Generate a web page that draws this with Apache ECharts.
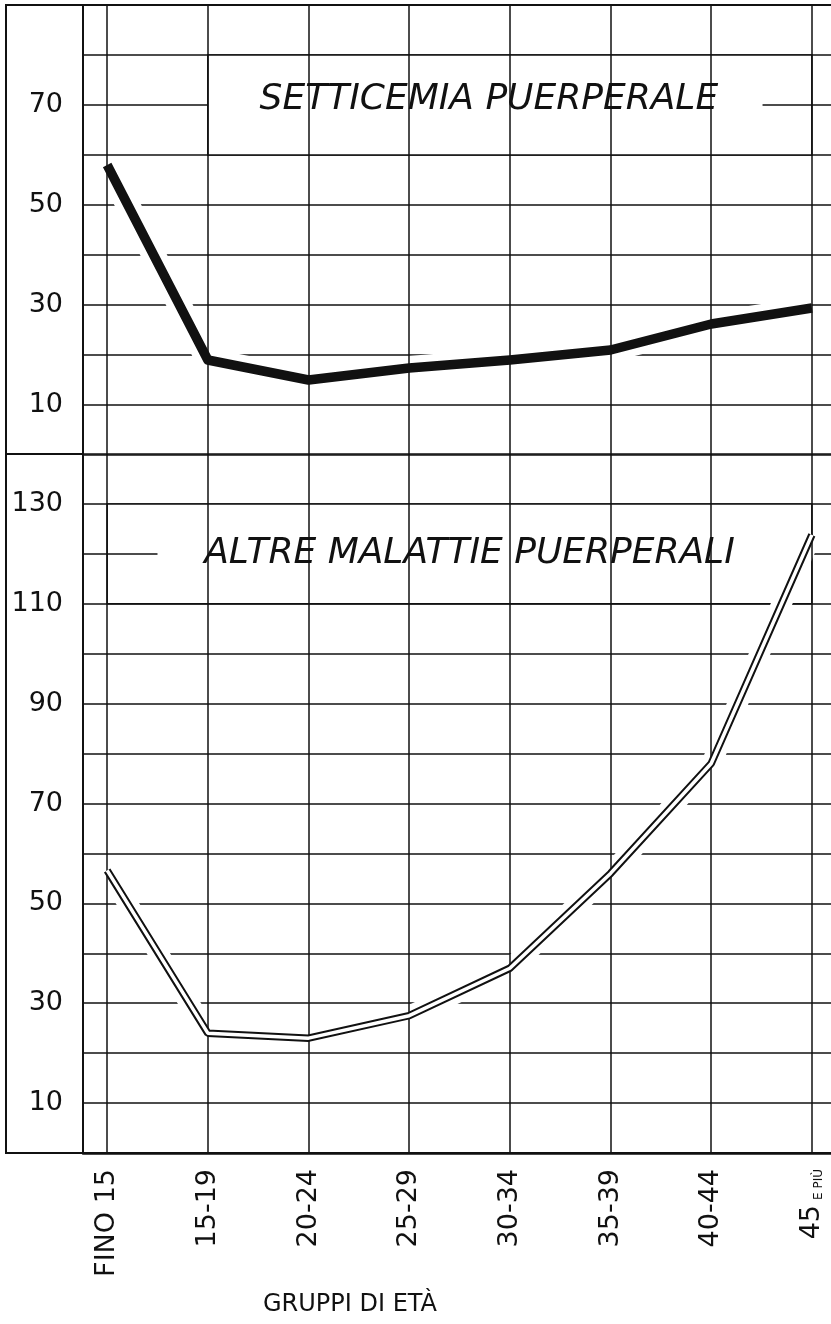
<!DOCTYPE html>
<html>
<head>
<meta charset="utf-8">
<script src="https://cdn.jsdelivr.net/npm/echarts@6/dist/echarts.min.js"></script>
<style>
  html, body { margin: 0; padding: 0; background: #fff; }
  #chart { width: 831px; height: 1324px; }
</style>
</head>
<body>
<div id="chart"></div>
<script>
// dati
const categories = ['FINO 15', '15-19', '20-24', '25-29', '30-34', '35-39', '40-44', '45 E PIÙ']
const setticemia = [58, 19, 15, 17.4, 19, 21, 26.2, 29.4]
const altreMalattie = [56.6, 24, 23, 27.5, 37, 56, 78, 123.8]
const topTicks = [10, 30, 50, 70]
const bottomTicks = [10, 30, 50, 70, 90, 110, 130]
const topTitle = 'SETTICEMIA PUERPERALE'
const bottomTitle = 'ALTRE MALATTIE PUERPERALI'
const axisName = 'GRUPPI DI ETÀ'

const ink = '#111'
const font = 'DejaVu Sans'

const chart = echarts.init(document.getElementById('chart'))

const toPairs = (arr) => arr.map((v, i) => [i, v])
const verticals = categories.map((c, i) => ({ xAxis: i }))

const xBase = {
  type: 'value',
  min: -0.24,
  max: 7.19,
  axisTick: { show: false },
  splitLine: { show: false }
}

const yBase = {
  type: 'value',
  min: 0,
  interval: 10,
  axisLine: { show: true, onZero: false, lineStyle: { color: ink, width: 2 } },
  axisTick: { show: false },
  splitLine: { show: true, lineStyle: { color: ink, width: 1.5 } },
  axisLabel: { color: ink, fontFamily: font, fontSize: 27, margin: 20 }
}

const titleLabel = (text, offset) => ({
  show: true,
  position: 'inside',
  formatter: text,
  color: ink,
  fontFamily: font,
  fontStyle: 'italic',
  fontSize: 36,
  offset: offset
})

const boxStyle = { color: '#fff', opacity: 1, borderColor: ink, borderWidth: 1.5 }

const option = {
  animation: false,
  backgroundColor: '#fff',
  graphic: [
    {
      type: 'rect',
      shape: { x: 6, y: 5, width: 830, height: 1148 },
      style: { fill: 'none', stroke: ink, lineWidth: 2 },
      z: 10
    },
    {
      type: 'line',
      shape: { x1: 6, y1: 454, x2: 83, y2: 454 },
      style: { stroke: ink, lineWidth: 2 },
      z: 10
    }
  ],
  grid: [
    { left: 83, right: 0, top: 5, height: 450 },
    { left: 83, right: 0, top: 454, height: 699 }
  ],
  xAxis: [
    Object.assign({}, xBase, {
      gridIndex: 0,
      axisLine: { show: false },
      axisLabel: { show: false }
    }),
    Object.assign({}, xBase, {
      gridIndex: 1,
      axisLine: { show: true, onZero: false, lineStyle: { color: ink, width: 2.5 } },
      axisLabel: {
        customValues: categories.map((c, i) => i),
        formatter: (v) => {
          const i = Math.round(v)
          if (i === 7) return '{a|45}{b|E PIÙ}'
          return categories[i]
        },
        rotate: 90,
        margin: 16,
        color: ink,
        fontFamily: font,
        fontSize: 27,
        rich: {
          a: { fontFamily: font, fontSize: 27, color: ink },
          b: { fontFamily: font, fontSize: 12, color: ink, padding: [0, 0, 0, 5], verticalAlign: 'bottom' }
        }
      },
      name: axisName,
      nameLocation: 'middle',
      nameGap: 140,
      nameTextStyle: {
        color: ink,
        fontFamily: font,
        fontSize: 24,
        padding: [0, 214, 0, 0]
      }
    })
  ],
  yAxis: [
    Object.assign({}, yBase, {
      gridIndex: 0,
      max: 90,
      axisLabel: Object.assign({}, yBase.axisLabel, { customValues: topTicks })
    }),
    Object.assign({}, yBase, {
      gridIndex: 1,
      max: 140,
      axisLabel: Object.assign({}, yBase.axisLabel, { customValues: bottomTicks })
    })
  ],
  series: [
    // linee verticali della griglia
    {
      type: 'line', xAxisIndex: 0, yAxisIndex: 0, data: [], z: 1, silent: true,
      markLine: { silent: true, symbol: ['none', 'none'], label: { show: false },
        lineStyle: { color: ink, width: 1.5, type: 'solid' }, data: verticals }
    },
    {
      type: 'line', xAxisIndex: 1, yAxisIndex: 1, data: [], z: 1, silent: true,
      markLine: { silent: true, symbol: ['none', 'none'], label: { show: false },
        lineStyle: { color: ink, width: 1.5, type: 'solid' }, data: verticals }
    },
    // riquadri dei titoli
    {
      type: 'line', xAxisIndex: 0, yAxisIndex: 0, data: [], z: 2, silent: true,
      markArea: { silent: true, itemStyle: boxStyle,
        data: [[{ coord: [1, 60], label: titleLabel(topTitle, [-21, -5]) }, { coord: [7, 80] }]] }
    },
    {
      type: 'line', xAxisIndex: 1, yAxisIndex: 1, data: [], z: 2, silent: true,
      markArea: { silent: true, itemStyle: boxStyle,
        data: [[{ coord: [0, 110], label: titleLabel(bottomTitle, [10, 0]) }, { coord: [7, 130] }]] }
    },
    // trattini accanto ai titoli
    {
      type: 'line', xAxisIndex: 0, yAxisIndex: 0, data: [], z: 3, silent: true,
      markLine: { silent: true, symbol: ['none', 'none'], label: { show: false },
        lineStyle: { color: ink, width: 1.5, type: 'solid' },
        data: [[{ coord: [6.51, 70] }, { coord: [7, 70] }]] }
    },
    {
      type: 'line', xAxisIndex: 1, yAxisIndex: 1, data: [], z: 3, silent: true,
      markLine: { silent: true, symbol: ['none', 'none'], label: { show: false },
        lineStyle: { color: ink, width: 1.5, type: 'solid' },
        data: [[{ coord: [0, 120] }, { coord: [0.5, 120] }]] }
    },
    // setticemia: alone bianco + linea spessa
    {
      name: 'halo1', type: 'line', xAxisIndex: 0, yAxisIndex: 0, z: 4, silent: true,
      data: toPairs(setticemia), symbol: 'none',
      lineStyle: { color: '#fff', width: 24, join: 'round' }
    },
    {
      name: topTitle, type: 'line', xAxisIndex: 0, yAxisIndex: 0, z: 5,
      data: toPairs(setticemia), symbol: 'none',
      lineStyle: { color: ink, width: 9.5, join: 'round' }
    },
    // altre malattie: alone + doppia linea
    {
      name: 'halo2', type: 'line', xAxisIndex: 1, yAxisIndex: 1, z: 4, silent: true,
      data: toPairs(altreMalattie), symbol: 'none',
      lineStyle: { color: '#fff', width: 20, join: 'round' }
    },
    {
      name: bottomTitle, type: 'line', xAxisIndex: 1, yAxisIndex: 1, z: 5,
      data: toPairs(altreMalattie), symbol: 'none',
      lineStyle: { color: ink, width: 7.5 }
    },
    {
      name: 'inner', type: 'line', xAxisIndex: 1, yAxisIndex: 1, z: 6, silent: true,
      data: toPairs(altreMalattie), symbol: 'none',
      lineStyle: { color: '#fff', width: 3.5 }
    }
  ]
}

chart.setOption(option)
</script>
</body>
</html>
